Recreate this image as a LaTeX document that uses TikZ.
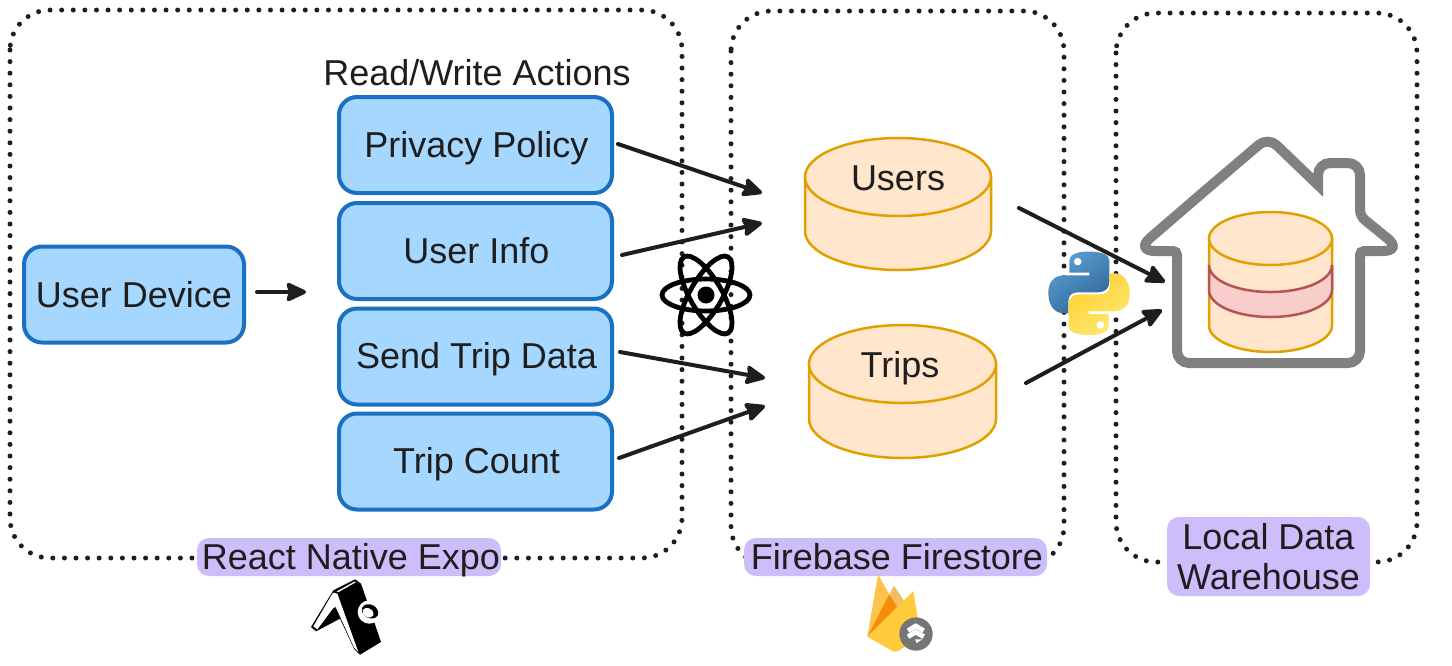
\documentclass[tikz,border=0pt]{standalone}
\usepackage{fontspec}
\setmainfont{Liberation Sans}
\usetikzlibrary{arrows.meta}
\definecolor{ink}{HTML}{1E1E1E}
\definecolor{bluefill}{HTML}{A5D7FF}
\definecolor{blueline}{HTML}{1A70C2}
\definecolor{tagfill}{HTML}{CDBDFB}
\definecolor{cylfill}{HTML}{FFE6CC}
\definecolor{cylline}{HTML}{DFA000}
\definecolor{bandfill}{HTML}{F8CECC}
\definecolor{bandline}{HTML}{B85450}
\definecolor{pyblueA}{HTML}{5A9FD4}
\definecolor{pyblueB}{HTML}{2F6695}
\definecolor{pyyelA}{HTML}{FFE873}
\definecolor{pyyelB}{HTML}{FFD030}
\definecolor{fireA}{HTML}{F4BD62}
\definecolor{fireB}{HTML}{FFC24A}
\definecolor{fireC}{HTML}{F58C0A}
\definecolor{fireD}{HTML}{FFCA3C}
\definecolor{fireE}{HTML}{757575}
\tikzset{
  txt/.style={text=ink,font=\fontsize{18}{20}\selectfont,inner sep=0pt,align=center,text height=13pt,text depth=0pt},
  actionbox/.style={draw=blueline,fill=bluefill,line width=2pt,rounded corners=9pt,inner sep=0pt,text=ink,font=\fontsize{18}{20}\selectfont,minimum height=48pt,anchor=center,text height=12pt,text depth=0pt},
  zone/.style={draw=ink,line width=2.5pt,line cap=round,dash pattern=on 0pt off 5.8pt,rounded corners=20pt},
  flow/.style={draw=ink,line width=2pt,line cap=round,-{Stealth[length=11.5pt,width=10.5pt,inset=1.5pt,round=false]}},
  tag/.style={fill=tagfill,rounded corners=6pt,inner sep=0pt,text=ink,font=\fontsize{18}{20}\selectfont,align=center},
  cyl/.style={draw=cylline,fill=cylfill,line width=1.25pt},
}
\newcommand{\cylbody}[5]{% x1 x2 top bot ry
  \pgfmathsetmacro{\cx}{(#1+#2)/2}\pgfmathsetmacro{\rx}{(#2-#1)/2}
  \pgfmathsetmacro{\kx}{.5523*\rx}\pgfmathsetmacro{\ky}{.5523*#5}
  \pgfmathsetmacro{\sa}{#3+#5}\pgfmathsetmacro{\sb}{#4-#5}
  \draw[cyl] (#1,\sa) -- (#1,\sb) .. controls ({#1},{\sb+\ky}) and ({\cx-\kx},#4) .. (\cx,#4)
     .. controls ({\cx+\kx},#4) and (#2,{\sb+\ky}) .. (#2,\sb) -- (#2,\sa) -- cycle;
  \draw[cyl] (#1,\sa)
     .. controls (#1,{\sa+\ky}) and ({\cx-\kx},{\sa+#5}) .. (\cx,{\sa+#5})
     .. controls ({\cx+\kx},{\sa+#5}) and (#2,{\sa+\ky}) .. (#2,\sa)
     .. controls (#2,{\sa-\ky}) and ({\cx+\kx},#3) .. (\cx,#3)
     .. controls ({\cx-\kx},#3) and (#1,{\sa-\ky}) .. (#1,\sa) -- cycle;
}
\newcommand{\pyhalf}[3]{% rotation, colour a, colour b
  \begin{scope}[shift={(1089,293.3)},rotate=#1]
    \shade[left color=#2,right color=#3,shading angle=35]
      (20.3,-33) .. controls (20.3,-38.5) and (13,-41.7) .. (-0.7,-41.7)
      .. controls (-14,-41.7) and (-19.7,-38) .. (-19.7,-32)
      -- (-19.7,-20.7) -- (0.3,-20.7) -- (0.3,-18) -- (-25,-18)
      .. controls (-35,-18) and (-40.7,-11) .. (-40.7,-1)
      .. controls (-40.7,12) and (-35,20) .. (-25,20)
      -- (-20.7,20) -- (-20.7,8.5)
      .. controls (-20.7,2) and (-17,-1) .. (-11,-1)
      -- (9,-1) .. controls (16,-1) and (20.3,-5) .. (20.3,-11) -- cycle;
    \fill[white] (-11.3,-31.7) circle[radius=3.8];
  \end{scope}
}
\begin{document}
\begin{tikzpicture}[x=0.5pt,y=-0.5pt]
\useasboundingbox (0,0) rectangle (1452,665);
% zones
\draw[zone] (10,10) rectangle (682,558);
\draw[zone] (731,11) rectangle (1064,566);
\draw[zone] (1116,13) rectangle (1417,562);
% boxes
\node[txt] (rw) at (477,72) {Read/Write Actions};
\node[actionbox,minimum width=110pt,text height=13pt] (device) at (134,294.5) {User Device};
\node[actionbox,minimum width=136.5pt] (privacy) at (475.5,145) {\hspace{1pt}Privacy Policy};
\node[actionbox,minimum width=136.5pt] (info) at (475.5,251) {\hspace{1pt}User Info};
\node[actionbox,minimum width=136.5pt] (send) at (475.5,356.5) {\hspace{1pt}Send Trip Data};
\node[actionbox,minimum width=136.5pt] (count) at (475.5,461.5) {\hspace{1pt}Trip Count};
% cylinders
\cylbody{805}{991}{138}{270}{39}
\node[txt] (users) at (898,177) {Users};
\cylbody{809}{996}{325}{458}{39}
\node[txt] (trips) at (900,364) {Trips};
% react icon
\begin{scope}[shift={(706,295)}]
  \foreach \a in {0,60,120}
    \draw[black,line width=2.4pt,rotate=\a] (0,0) ellipse[x radius=44,y radius=16];
  \fill[black] (0,0) circle[radius=8.5];
\end{scope}
% house
\draw[draw=black!50,line width=5pt,line join=miter,miter limit=10]
  (1200,195)
  [rounded corners=10pt] -- (1135,251)
  [rounded corners=2pt] -- (1177,251)
  [rounded corners=6pt] -- (1177,363) -- (1360,363)
  [rounded corners=2pt] -- (1360,251)
  [rounded corners=10pt] -- (1403,251)
  [rounded corners=3pt] -- (1360,216)
  [rounded corners=6pt] -- (1360,163) -- (1318,163)
  [sharp corners] -- (1318,185)
  [rounded corners=6pt] -- (1268,137) -- cycle;
% warehouse cylinder
\cylbody{1209}{1332}{212}{352}{26.5}
\draw[draw=bandline,fill=bandfill,line width=1.25pt]
  (1209,265) .. controls (1209,280) and (1236,292) .. (1270.5,292) .. controls (1305,292) and (1332,280) .. (1332,265)
  -- (1332,290) .. controls (1332,305) and (1305,317) .. (1270.5,317) .. controls (1236,317) and (1209,305) .. (1209,290) -- cycle;
% python icon
\pyhalf{0}{pyblueA}{pyblueB}
\pyhalf{180}{pyyelB}{pyyelA}
% flows
\coordinate (a1) at (257,292); \coordinate (b1) at (306,292);
\coordinate (a2) at (618,144); \coordinate (b2) at (762,193);
\coordinate (a3) at (622,255); \coordinate (b3) at (762,223);
\coordinate (a4) at (620,352); \coordinate (b4) at (765,378);
\coordinate (a5) at (619,458); \coordinate (b5) at (765,406);
\coordinate (a6) at (1019,208); \coordinate (b6) at (1165,282);
\coordinate (a7) at (1026,383); \coordinate (b7) at (1162,310);
\foreach \i in {1,...,7} \draw[flow] (a\i) -- (b\i);
% tags
\node[tag,minimum width=152pt,minimum height=19pt,text height=12pt,text depth=0pt] (tagreact) at (349,557) {\hspace{2pt}React Native Expo};
\node[tag,minimum width=151.5pt,minimum height=19pt,text height=12pt,text depth=0pt] (tagfire) at (895.5,557) {\hspace{1.5pt}Firebase Firestore};
\node[tag,minimum width=101.5pt,minimum height=39.5pt] (tagware) at (1268.5,556.5) {Local Data\\Warehouse};
% expo logo
\begin{scope}[shift={(290,570)},x=0.1667pt,y=-0.1667pt]
  \fill[black] (130,61) -- (195,28) -- (213,41) -- (273,216) -- (210,254) -- (193,238) -- (150,146) -- (78,184) -- (63,171) -- cycle;
  \fill[white] (127,71) -- (130,68) -- (142,71) -- (205,246) -- (193,234) -- (137,111) -- (130,114) -- (82,178) -- (70,169) -- cycle;
  \fill[white] (140,64) -- (195,34) -- (197,37) -- (144,67) -- cycle;
  \fill[white] (238,126) circle[radius=35];
  \fill[black,rotate around={-28:(240,124)}] (240,124) ellipse[x radius=26,y radius=20];
  \fill[white,rotate around={-28:(234,128)}] (234,128) ellipse[x radius=18,y radius=13];
\end{scope}
% firebase logo
\begin{scope}[shift={(850,565)},x=0.1667pt,y=-0.1667pt]
  \fill[fireA] (118,88) -- (132,62) -- (165,112) -- (140,135) -- cycle;
  \fill[fireB] (52,215) -- (84,28) -- (120,92) -- cycle;
  \fill[fireC] (52,215) -- (118,88) -- (142,128) -- cycle;
  \fill[fireD] (52,215) -- (190,78) -- (212,215) -- (145,258) -- (130,260) -- cycle;
  \fill[fireE] (198,207) circle[radius=50];
  \draw[white,line width=2.4pt,line join=miter] (174,197) -- (197,183) -- (221,197);
  \draw[white,line width=2.4pt,line join=miter] (174,215) -- (197,201) -- (221,215);
  \fill[white] (195,223) -- (217,223) -- (200,234) -- cycle;
\end{scope}
\end{tikzpicture}
\end{document}
